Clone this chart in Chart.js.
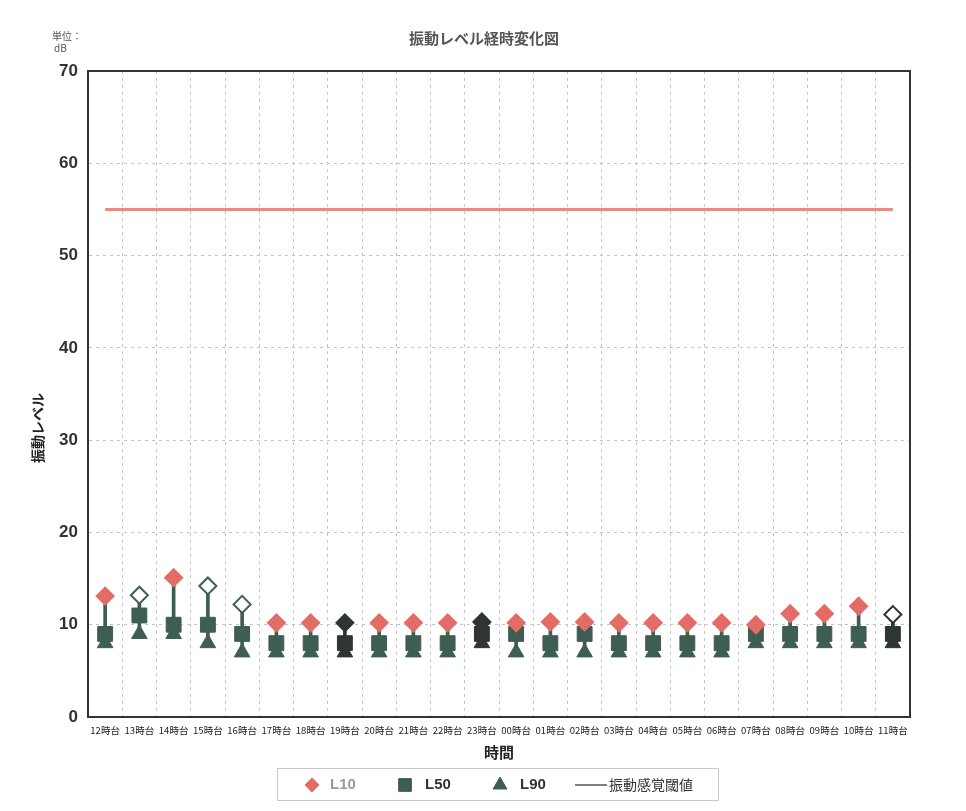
<!DOCTYPE html>
<html><head><meta charset="utf-8">
<script src="https://cdn.jsdelivr.net/npm/chart.js@4.4.1/dist/chart.umd.min.js"></script>
<style>html,body{margin:0;padding:0;background:#fff;}</style>
</head><body>
<canvas id="c" width="966" height="811"></canvas>
<script>
// ---- data ----
const categories = ['12時台','13時台','14時台','15時台','16時台','17時台','18時台','19時台','20時台','21時台','22時台','23時台',
                    '00時台','01時台','02時台','03時台','04時台','05時台','06時台','07時台','08時台','09時台','10時台','11時台'];
const L10 = [13.1,13.2,15.1,14.2,12.2,10.2,10.2,10.2,10.2,10.2,10.2,10.3,10.2,10.3,10.3,10.2,10.2,10.2,10.2,10.0,11.2,11.2,12.0,11.1];
const L50 = [9.0,11.0,10.0,10.0,9.0,8.0,8.0,8.0,8.0,8.0,8.0,9.0,9.0,8.0,9.0,8.0,8.0,8.0,8.0,9.0,9.0,9.0,9.0,9.0];
const L90 = [8.0,9.0,9.0,8.0,7.0,7.0,7.0,7.0,7.0,7.0,7.0,8.0,7.0,7.0,7.0,7.0,7.0,7.0,7.0,8.0,8.0,8.0,8.0,8.0];
const thresholdValue = 55;
const yTickValues = [0,10,20,30,40,50,60,70];
const seriesNames = ['L10','L50','L90','振動感覚閾値'];

// ---- styles ----
const RED = '#e46c66', GREEN = '#3e5d53', DARK = '#2f3532', LINE_RED = '#e98a83';
const hollowIdx = [1,3,4,23];
const darkIdx = [7,11];
const l10Fill = categories.map((_,i)=> hollowIdx.includes(i) ? '#ffffff' : (darkIdx.includes(i) ? DARK : RED));
const l10Border = categories.map((_,i)=> hollowIdx.includes(i) ? (i===23?DARK:GREEN) : (darkIdx.includes(i) ? DARK : RED));
const lowFill = categories.map((_,i)=> (darkIdx.includes(i)||i===23) ? DARK : GREEN);

const frameAndText = {
  id:'frameAndText',
  afterDraw(chart){
    const ctx = chart.ctx, a = chart.chartArea;
    ctx.save();
    // frame top/right
    ctx.strokeStyle = '#333'; ctx.lineWidth = 2;
    ctx.beginPath();
    ctx.moveTo(a.left, a.top); ctx.lineTo(a.right, a.top); ctx.lineTo(a.right, a.bottom);
    ctx.stroke();
    // unit label
    ctx.fillStyle = '#555';
    ctx.font = '10px "Noto Sans CJK JP"';
    ctx.textAlign = 'left'; ctx.textBaseline = 'middle';
    ctx.fillText('単位：', 52, 36);
    ctx.fillText('dB', 54, 48);
    // y axis title
    ctx.save();
    ctx.translate(38, 428);
    ctx.rotate(-Math.PI/2);
    ctx.font = 'bold 14px "Noto Sans CJK JP"';
    ctx.fillStyle = '#222';
    ctx.textAlign = 'center';
    ctx.fillText('振動レベル', 0, 0);
    ctx.restore();
    // legend
    const ly = 785;
    ctx.strokeStyle = '#c8c8c8'; ctx.lineWidth = 1;
    ctx.strokeRect(277.5, 768.5, 441, 32);
    const items = [
      {x:312, style:'rectRot', r:7, fill:RED, tx:330, color:'#9a9a9a'},
      {x:405, style:'rect', r:9, fill:GREEN, tx:425, color:'#333'},
      {x:500, style:'triangle', r:8, fill:GREEN, tx:520, color:'#333'}
    ];
    items.forEach((it,k)=>{
      ctx.fillStyle = it.fill; ctx.strokeStyle = it.fill;
      Chart.helpers.drawPoint(ctx, {pointStyle:it.style, radius:it.r, borderWidth:1, rotation:0}, it.x, ly);
      ctx.font = 'bold 15px "Liberation Sans Narrow","Liberation Sans"';
      ctx.fillStyle = it.color; ctx.textAlign='left'; ctx.textBaseline='middle';
      ctx.fillText(seriesNames[k], it.tx, ly);
    });
    ctx.strokeStyle = '#555'; ctx.lineWidth = 1.5;
    ctx.beginPath(); ctx.moveTo(575, ly); ctx.lineTo(607, ly); ctx.stroke();
    ctx.font = '14px "Noto Sans CJK JP"'; ctx.fillStyle = '#333';
    ctx.fillText(seriesNames[3], 609, ly);
    ctx.restore();
  }
};

new Chart(document.getElementById('c'), {
  type: 'line',
  data: {
    labels: categories,
    datasets: [
      {label: seriesNames[3], data: categories.map(()=>thresholdValue), borderColor: LINE_RED, borderWidth: 3,
       pointRadius: 0, fill:false, order: 3},
      {label: seriesNames[0], data: L10, showLine:false, pointStyle:'rectRot', pointRadius:8.5, pointHoverRadius:8.5,
       pointBackgroundColor:l10Fill, pointBorderColor:l10Border, pointBorderWidth:2, order:0},
      {label: seriesNames[1], data: L50, showLine:false, pointStyle:'rect', pointRadius:10.5, pointHoverRadius:10.5,
       pointBackgroundColor:lowFill, pointBorderColor:lowFill, pointBorderWidth:1, order:1},
      {label: seriesNames[2], data: L90, showLine:false, pointStyle:'triangle', pointRadius:9, pointHoverRadius:9,
       pointBackgroundColor:lowFill, pointBorderColor:lowFill, pointBorderWidth:1, order:2},
      {type:'bar', label:'range', data: L90.map((v,i)=>[v, L10[i]]), backgroundColor: lowFill,
       barThickness: 3, order: 5}
    ]
  },
  options: {
    responsive: false,
    animation: false,
    devicePixelRatio: 1,
    layout: {padding: {left: 58, right: 56, top: 0, bottom: 44}},
    plugins: {
      legend: {display: false},
      tooltip: {enabled: false},
      title: {display: true, text: '振動レベル経時変化図', color: '#555',
              font: {family: '"Noto Sans CJK JP"', size: 15, weight: 'bold', lineHeight: 1.2},
              padding: {top: 29, bottom: 24}}
    },
    scales: {
      x: {
        offset: true,
        grid: {offset: true, color: '#c4c4c4', drawTicks: false},
        border: {color: '#333', width: 2, dash: [3, 4]},
        ticks: {autoSkip: false, maxRotation: 0, minRotation: 0, padding: 8, color: '#222',
                font: {family: '"Noto Sans CJK JP"', size: 9.5}},
        title: {display: true, text: '時間', color: '#222', padding: {top: 0, bottom: 6},
                font: {family: '"Noto Sans CJK JP"', size: 15, weight: 'bold', lineHeight: 1.2}},
        afterFit(s){ s.height = 50; }
      },
      y: {
        min: 0, max: 70,
        afterBuildTicks(s){ s.ticks = yTickValues.map(v=>({value:v})); },
        grid: {color: '#c4c4c4', drawTicks: false},
        border: {color: '#333', width: 2, dash: [3, 4]},
        ticks: {padding: 10, color: '#333',
                font: {family: '"Liberation Sans Narrow","Liberation Sans"', size: 17, weight: 'bold'}},
        afterFit(s){ s.width = 30; }
      }
    }
  },
  plugins: [frameAndText, {
    id: 'solidAxes',
    afterDraw(chart){
      const ctx = chart.ctx, a = chart.chartArea;
      ctx.save(); ctx.strokeStyle = '#333'; ctx.lineWidth = 2;
      ctx.beginPath(); ctx.moveTo(a.left, a.top); ctx.lineTo(a.left, a.bottom); ctx.lineTo(a.right, a.bottom); ctx.stroke();
      ctx.restore();
    }
  }]
});
</script>
</body></html>
